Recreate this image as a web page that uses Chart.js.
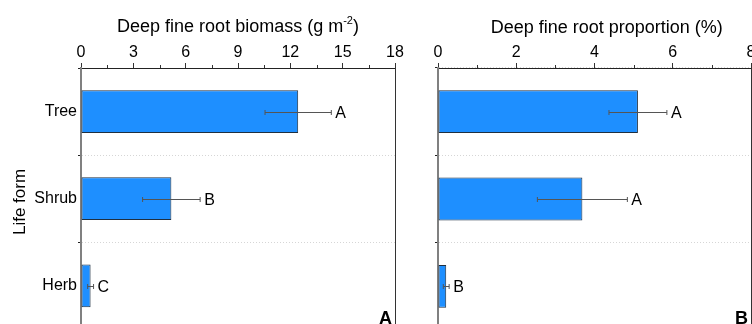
<!DOCTYPE html>
<html><head><meta charset="utf-8">
<script src="https://cdn.jsdelivr.net/npm/chart.js@4"></script>
<style>
html,body{margin:0;padding:0;background:#fff;overflow:hidden;width:752px;height:324px;position:relative;}
#cA{position:absolute;left:0;top:0;}
#cB{position:absolute;left:400px;top:0;}
</style></head>
<body>
<canvas id="cA" width="420" height="340" style="width:420px;height:340px"></canvas>
<canvas id="cB" width="360" height="340" style="width:360px;height:340px"></canvas>
<script>
const lifeForms = ['Tree', 'Shrub', 'Herb'];
const biomass = [12.45, 5.18, 0.55];
const biomassErr = [1.9, 1.65, 0.17];
const biomassLetters = ['A', 'B', 'C'];
const proportion = [5.11, 3.69, 0.21];
const proportionErr = [0.74, 1.15, 0.075];
const proportionLetters = ['A', 'A', 'B'];
const biomassTickStep = 3, biomassMax = 18;
const proportionTickStep = 2, proportionMax = 8;

const FONT = "'Liberation Sans', Arial, Helvetica, sans-serif";

function makePanel(canvasId, cfg) {
  const overlay = {
    id: 'overlay_' + canvasId,
    afterDatasetsDraw(chart) {
      const {ctx, scales: {x, y}} = chart;
      ctx.save();
      ctx.strokeStyle = '#555';
      ctx.lineWidth = 1;
      ctx.fillStyle = '#000';
      ctx.font = '16px ' + FONT;
      ctx.textAlign = 'left';
      ctx.textBaseline = 'middle';
      cfg.values.forEach((v, i) => {
        const py = Math.round(y.getPixelForValue(i)) + 0.5;
        const xl = x.getPixelForValue(v - cfg.errors[i]);
        const xr = x.getPixelForValue(v + cfg.errors[i]);
        ctx.beginPath();
        ctx.moveTo(xl, py); ctx.lineTo(xr, py);
        ctx.moveTo(xl, py - 2.5); ctx.lineTo(xl, py + 2.5);
        ctx.moveTo(xr, py - 2.5); ctx.lineTo(xr, py + 2.5);
        ctx.stroke();
        ctx.fillText(cfg.letters[i], xr + 4, py + 1);
      });
      ctx.restore();
    },
    afterDraw(chart) {
      const {ctx, chartArea: ca, scales: {x}} = chart;
      ctx.save();
      // minor ticks
      ctx.strokeStyle = '#333';
      ctx.lineWidth = 1;
      ctx.beginPath();
      for (let v = cfg.step / 2; v < cfg.max; v += cfg.step) {
        const px = Math.round(x.getPixelForValue(v)) + 0.5;
        ctx.moveTo(px, ca.top); ctx.lineTo(px, ca.top - 3);
      }
      ctx.stroke();
      // right border
      ctx.beginPath();
      const rx = Math.round(ca.right) + 0.5;
      ctx.moveTo(rx, ca.top); ctx.lineTo(rx, ca.bottom);
      ctx.stroke();
      // title
      ctx.fillStyle = '#000';
      ctx.textBaseline = 'alphabetic';
      ctx.font = '18px ' + FONT;
      const cx = cfg.titleX;
      if (cfg.sup) {
        ctx.font = '18px ' + FONT;
        const w1 = ctx.measureText(cfg.title).width;
        ctx.font = '11px ' + FONT;
        const w2 = ctx.measureText(cfg.sup).width;
        ctx.font = '18px ' + FONT;
        const w3 = ctx.measureText(')').width;
        let sx = cx - (w1 + w2 + w3) / 2;
        ctx.textAlign = 'left';
        ctx.fillText(cfg.title, sx, cfg.titleY);
        ctx.font = '11px ' + FONT;
        ctx.fillText(cfg.sup, sx + w1, cfg.titleY - 8);
        ctx.font = '18px ' + FONT;
        ctx.fillText(')', sx + w1 + w2, cfg.titleY);
      } else {
        ctx.textAlign = 'center';
        ctx.fillText(cfg.title, cx, cfg.titleY);
      }
      // y title
      if (cfg.yTitle) {
        ctx.save();
        ctx.translate(25, 202);
        ctx.rotate(-Math.PI / 2);
        ctx.textAlign = 'center';
        ctx.font = '17px ' + FONT;
        ctx.fillText(cfg.yTitle, 0, 0);
        ctx.restore();
      }
      // panel label
      ctx.font = 'bold 18px ' + FONT;
      ctx.textAlign = 'right';
      ctx.fillText(cfg.panel, ca.right - 3, 324);
      ctx.restore();
    }
  };

  return new Chart(document.getElementById(canvasId), {
    type: 'bar',
    data: {
      labels: lifeForms,
      datasets: [{
        data: cfg.values,
        backgroundColor: '#1E8FFF',
        borderColor: '#1f2f40',
        borderWidth: 1,
        borderSkipped: false,
        barPercentage: 0.49,
        categoryPercentage: 1
      }]
    },
    options: {
      indexAxis: 'y',
      responsive: false,
      animation: false,
      events: [],
      layout: {padding: {top: 0, left: 0, right: cfg.rightPad, bottom: 10}},
      plugins: {legend: {display: false}, tooltip: {enabled: false}},
      scales: {
        x: {
          type: 'linear',
          position: 'top',
          min: 0, max: cfg.max,
          afterFit(s) { s.height = 68; },
          ticks: {stepSize: cfg.step, color: '#000', font: {size: 16, family: FONT}, padding: 1, maxRotation: 0},
          grid: {drawOnChartArea: false, tickLength: 5, tickColor: '#333'},
          border: {color: '#222', width: 1}
        },
        y: {
          type: 'category',
          offset: true,
          afterFit(s) { s.width = cfg.yWidth; },
          ticks: {display: cfg.showY, color: '#000', font: {size: 16, family: FONT}, padding: 1},
          grid: {offset: true, color: '#d6d6d6', lineWidth: 1, tickLength: 3, tickColor: '#222'},
          border: {color: '#808080', width: 2, dash: [1, 2]}
        }
      }
    },
    plugins: [overlay]
  });
}

makePanel('cA', {
  values: biomass, errors: biomassErr, letters: biomassLetters,
  step: biomassTickStep, max: biomassMax,
  title: 'Deep fine root biomass (g m', sup: '-2', titleX: 238, titleY: 31.5,
  yTitle: 'Life form', panel: 'A', yWidth: 81, rightPad: 25, showY: true
});
makePanel('cB', {
  values: proportion, errors: proportionErr, letters: proportionLetters,
  step: proportionTickStep, max: proportionMax,
  title: 'Deep fine root proportion (%)', titleX: 206.7, titleY: 33,
  panel: 'B', yWidth: 38, rightPad: 9, showY: false
});
</script>
</body></html>
